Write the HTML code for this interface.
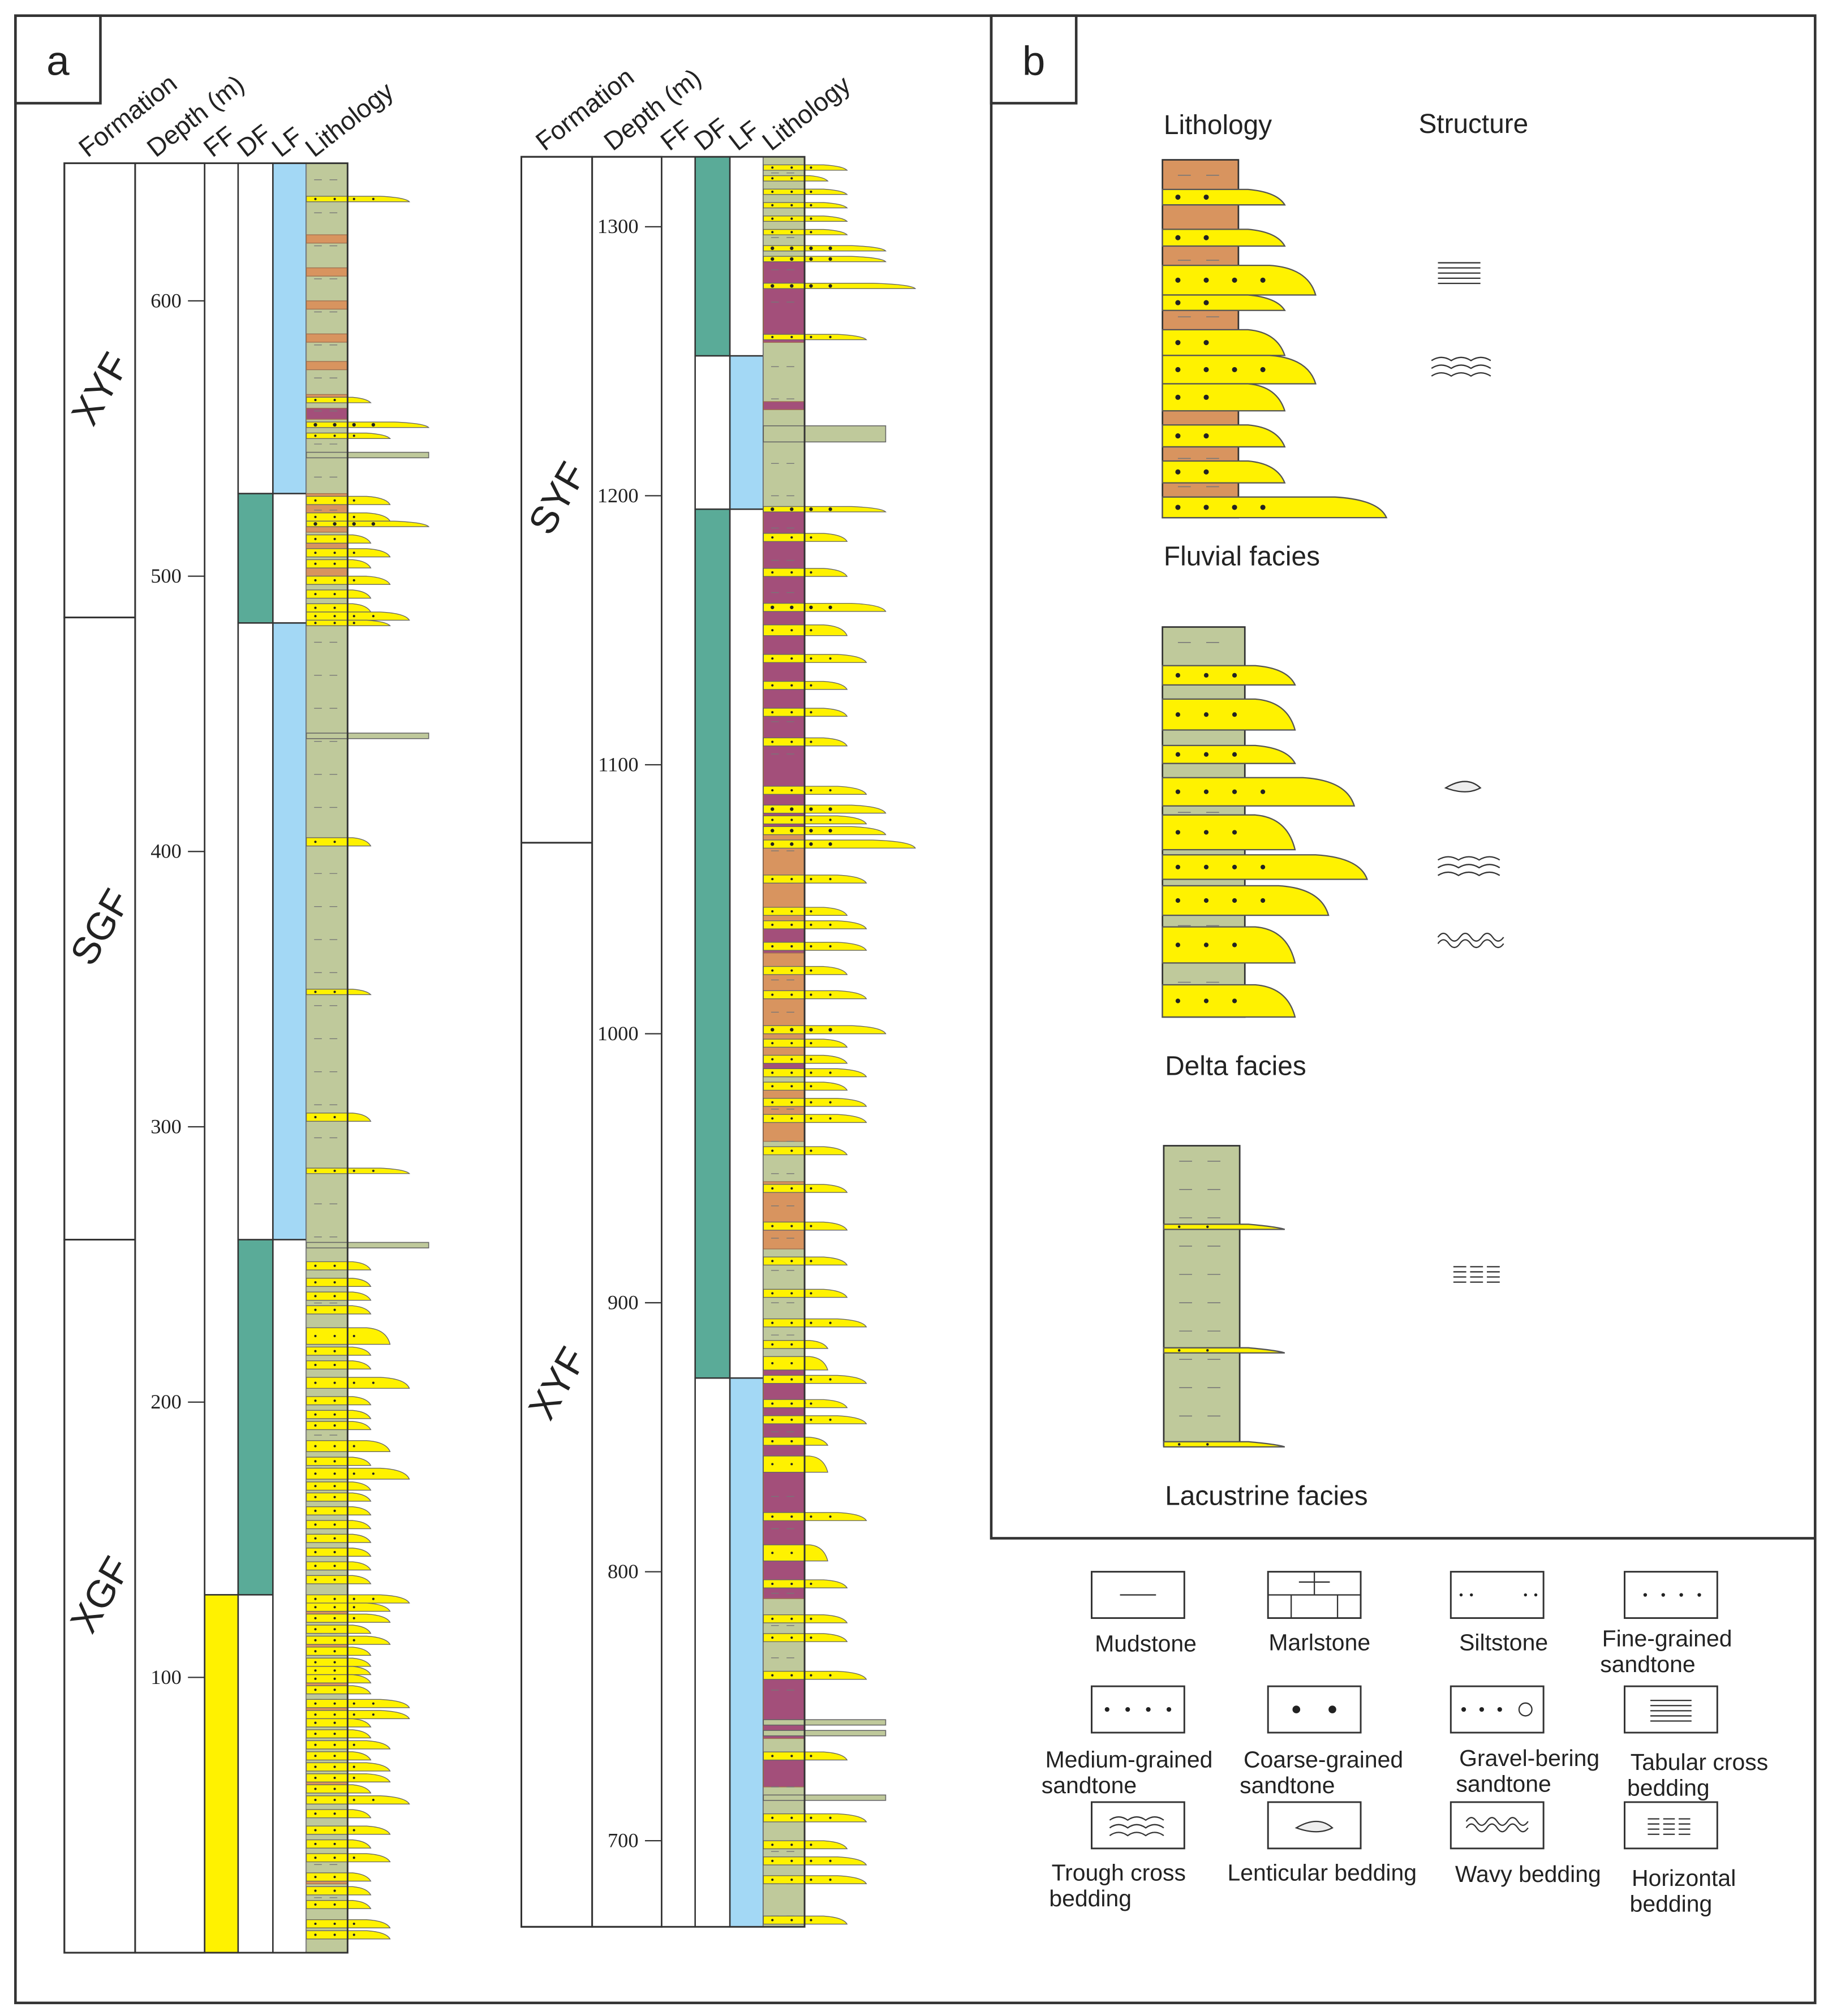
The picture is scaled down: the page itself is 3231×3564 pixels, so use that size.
<!DOCTYPE html>
<html><head><meta charset="utf-8"><style>
html,body{margin:0;padding:0;background:#fff}
svg{display:block}
text{font-family:"Liberation Sans",sans-serif;fill:#222}
.tk{font-family:"Liberation Serif",serif;font-size:16px}
</style></head><body>
<svg id="s" width="3231" height="3564" viewBox="0 0 1420 1566" xmlns="http://www.w3.org/2000/svg">
<rect x="12" y="12" width="1398" height="1544" fill="none" stroke="#333" stroke-width="2"/>
<rect x="12" y="12" width="66" height="68" fill="none" stroke="#333" stroke-width="2"/>
<text x="45" y="58" font-size="32" text-anchor="middle">a</text>
<rect x="770" y="12" width="640" height="1183" fill="none" stroke="#333" stroke-width="2"/>
<rect x="770" y="12" width="66" height="68" fill="none" stroke="#333" stroke-width="2"/>
<text x="803" y="58" font-size="32" text-anchor="middle">b</text>
<g id="cols"></g>
<g id="pb"></g>
<g id="leg"></g>
</svg>
<script>
const NS="http://www.w3.org/2000/svg";
const C={g:"#bfc99b",b:"#d8945f",p:"#a34f7a",y:"#fff200",bl:"#a3d8f5",t:"#5aab98",w:"#fff"};
const leftTicks=[100,200,300,400,500,600];
const leftFormations=[["XYF",650,485],["SGF",485,259],["XGF",259,0]];
const leftFF=[["w",650,130],["y",130,0]];
const leftDF=[["w",650,530],["t",530,483],["w",483,259],["t",259,130],["w",130,0]];
const leftLF=[["bl",650,530],["w",530,483],["bl",483,259],["w",259,0]];
const leftMud=[["g",650,0],["b",624,621],["b",612,609],["b",600,597],["b",588,585],["b",578,575],["b",566,563],["p",561,557],["b",530,516],["b",512,508],["b",503,500],["b",126,120],["b",112,108],["b",100,97],["b",90,86],["b",62,59],["b",28,25]];
const leftSand=[[638,2,3],[565,2,1],[556,2,4],[552,2,2],[545,2,4,"m"],[529,3,2],[523,3,2],[520,2,4],[515,3,1],[510,3,2],[506,3,1],[500,3,2],[495,3,1],[490,3,1],[487,3,3],[484,2,2],[443,2,4,"m"],[405,3,1],[350,2,1],[305,3,1],[285,2,3],[258,2,4,"m"],[251,3,1],[245,3,1],[240,3,1],[235,3,1],[227,6,2],[220,3,1],[215,3,1],[209,4,3],[202,3,1],[197,3,1],[193,3,1],[186,4,2],[180,3,1],[176,4,3],[171,3,1],[167,3,1],[162,3,1],[157,3,1],[152,3,1],[147,3,1],[142,3,1],[137,3,1],[130,3,3],[127,3,2],[123,3,2],[119,3,1],[115,3,2],[111,3,1],[107,3,1],[104,3,1],[101,3,1],[97,3,1],[92,3,3],[88,3,3],[85,3,1],[81,3,1],[77,3,2],[73,3,1],[69,3,2],[65,3,2],[61,3,1],[57,3,3],[52,3,1],[46,3,2],[41,3,1],[36,3,2],[29,3,1],[24,3,1],[19,3,1],[12,3,2],[8,3,2]];
const rightTicks=[700,800,900,1000,1100,1200,1300];
const rightFormations=[["SYF",1326,1071],["XYF",1071,668]];
const rightFF=[["w",1326,668]];
const rightDF=[["t",1326,1252],["w",1252,1195],["t",1195,872],["w",872,668]];
const rightLF=[["w",1326,1252],["bl",1252,1195],["w",1195,872],["bl",872,668]];
const rightMud=[["g",1326,668],["p",1288,1257],["p",1235,1232],["p",1195,1075],["b",1075,1040],["p",1040,1030],["b",1030,990],["p",990,984],["b",980,960],["b",945,920],["p",880,790],["p",760,738],["p",730,720]];
const rightSand=[[1323,2,2],[1319,2,1],[1314,2,2],[1309,2,2],[1304,2,2],[1299,2,2],[1293,2,4],[1289,2,4],[1279,2,5],[1260,2,3],[1226,6,4,"m"],[1196,2,4],[1186,3,2],[1173,3,2],[1160,3,4],[1152,4,2],[1141,3,3],[1131,3,2],[1121,3,2],[1110,3,2],[1092,3,3],[1085,3,4],[1081,3,3],[1077,3,4],[1072,3,5],[1059,3,3],[1047,3,2],[1042,3,3],[1034,3,3],[1025,3,2],[1016,3,3],[1003,3,4],[998,3,2],[992,3,2],[987,3,3],[982,3,2],[976,3,3],[970,3,3],[958,3,2],[944,3,2],[930,3,2],[917,3,2],[905,3,2],[894,3,3],[886,3,1],[880,5,1],[873,3,3],[864,3,2],[858,3,3],[850,3,1],[843,6,1],[822,3,3],[810,6,1],[797,3,2],[784,3,2],[777,3,2],[763,3,3],[745,2,4,"m"],[741,2,4,"m"],[733,3,2],[717,2,4,"m"],[710,3,3],[700,3,2],[694,3,3],[687,3,3],[672,3,2]];

const root=document.getElementById('cols');
function el(tag,attrs,parent){const e=document.createElementNS(NS,tag);for(const k in attrs)e.setAttribute(k,attrs[k]);(parent||root).appendChild(e);return e;}
const yL=d=>1517-d*2.139, yR=d=>176+(1300-d)*2.09;
const grainW=[0,50,65,80,95,118];

function column(cfg){
 const {y,x0,ticks,forms,ff,df,lf,mud,sand,name,dTop,dBot}=cfg;
 const g=el('g',{});
 
 
 const top=y(dTop),bot=y(dBot);
 const xs=[x0,x0+55,x0+109,x0+135,x0+162,x0+188];
 forms.forEach(f=>{const r=el('rect',{x:xs[0],y:y(f[1]),width:55,height:y(f[2])-y(f[1]),fill:'#fff',stroke:'#333','stroke-width':1.3},g);
  
  
  const cy=(y(f[1])+y(f[2]))/2;
  const t=el('text',{x:xs[0]+30,y:cy,'font-size':30,'text-anchor':'middle','dominant-baseline':'middle',transform:`rotate(-60 ${xs[0]+30} ${cy})`},g);t.textContent=f[0];
  
  });
 el('rect',{x:xs[1],y:top,width:54,height:bot-top,fill:'#fff',stroke:'#333','stroke-width':1.3},g);
 ticks.forEach(v=>{const yy=y(v);el('line',{x1:xs[2]-13,x2:xs[2],y1:yy,y2:yy,stroke:'#333','stroke-width':1},g);
  const t=el('text',{x:xs[2]-18,y:yy+5,'text-anchor':'end',class:'tk'},g);t.textContent=v;
  
  });
 [[ff,2],[df,3],[lf,4]].forEach(([arr,i])=>arr.forEach(s=>{const r=el('rect',{x:xs[i],y:y(s[1]),width:xs[i+1]-xs[i],height:y(s[2])-y(s[1]),fill:C[s[0]],stroke:'#333','stroke-width':1.1},g);
  
  }));
 const lx=xs[5];
 mud.forEach(m=>{const r=el('rect',{x:lx,y:y(m[1]),width:32,height:y(m[2])-y(m[1]),fill:C[m[0]],stroke:m[0]=='g'?'#888':'#a07050','stroke-width':0.6},g);
  
  });
 for(let d=dTop-6;d>dBot;d-=12){const yy=y(d);el('path',{d:`M${lx+6} ${yy}h6M${lx+18} ${yy}h6`,stroke:'#777','stroke-width':0.6},g);}
 sand.forEach(s=>{const t=y(s[0]),b=y(s[0]-s[1]),w=grainW[s[2]];
  if(s[3]=='m'){const r=el('rect',{x:lx,y:t,width:w,height:Math.max(2,b-t),fill:C.g,stroke:'#666','stroke-width':0.7},g);
   
   return;}
  const p=el('path',{d:`M${lx} ${t}H${lx+w*0.72}Q${lx+w-3} ${t+1} ${lx+w} ${b}H${lx}Z`,fill:C.y,stroke:'#666','stroke-width':0.6},g);
  
  
  const cy=(t+b)/2;for(let k=0;k<4&&k*15+8<w-12;k++)el('circle',{cx:lx+7+k*15,cy:cy,r:s[2]>3?1.4:0.9,fill:'#222'},g);});
 el('rect',{x:x0,y:top,width:188+32,height:bot-top,fill:'none',stroke:'#333','stroke-width':1.3},g);
 [["Formation",xs[0]+18],["Depth (m)",xs[1]+16],["FF",xs[2]+6],["DF",xs[3]+6],["LF",xs[4]+6],["Lithology",xs[5]+6]].forEach(h=>{
  const t=el('text',{x:h[1],y:top-4,'font-size':20,transform:`rotate(-38 ${h[1]} ${top-4})`},g);t.textContent=h[0];
  
  });
}
column({y:yL,x0:50,ticks:leftTicks,forms:leftFormations,ff:leftFF,df:leftDF,lf:leftLF,mud:leftMud,sand:leftSand,name:'left-section',dTop:650,dBot:0});
column({y:yR,x0:405,ticks:rightTicks,forms:rightFormations,ff:rightFF,df:rightDF,lf:rightLF,mud:rightMud,sand:rightSand,name:'right-section',dTop:1326,dBot:668});

const pb=document.getElementById('pb');
function col(x,y0,y1,w,fill,sands,name,dot){
 const g=el('g',{},pb);
 
 
 el('rect',{x:x,y:y0,width:w,height:y1-y0,fill:fill,stroke:'#333','stroke-width':1.2},g);
 for(let yy=y0+12;yy<y1;yy+=22)el('path',{d:`M${x+12} ${yy}h10M${x+34} ${yy}h10`,stroke:'#777','stroke-width':0.7},g);
 sands.forEach(s=>{const[t,b,r]=s;const L=Math.min(40,(r-x)*0.3);el('path',{d:`M${x} ${t}H${r-L}Q${r-6} ${t+2} ${r} ${b}H${x}Z`,fill:C.y,stroke:'#555','stroke-width':1},g);
  const n=Math.floor((r-x-30)/22);for(let k=0;k<Math.min(n,4);k++)el('circle',{cx:x+12+k*22,cy:(t+b)/2,r:dot,fill:'#222'},g);});
}
col(903,124,402,59,C.b,[[147,159,998],[178,191,998],[206,229,1022],[229,241,998],[256,276,998],[276,298,1022],[298,319,998],[330,347,998],[358,375,998],[386,402,1077]],'fluvial-column',2);
col(903,487,790,64,C.g,[[517,532,1006],[543,567,1006],[579,593,1006],[604,626,1052],[633,660,1006],[664,683,1062],[688,711,1032],[720,748,1006],[765,790,1006]],'delta-column',1.8);
col(904,890,1123,59,C.g,[[951,955,998],[1047,1051,998],[1120,1124,998]],'lacustrine-column',1);
[["Lithology",904,104],["Structure",1102,103],["Fluvial facies",904,439],["Delta facies",905,835],["Lacustrine facies",905,1169]].forEach(a=>{const t=el('text',{x:a[1],y:a[2],'font-size':21},pb);t.textContent=a[0];
 
 });
function icon(type,x,y,w,parent){
 const s={stroke:'#333',fill:'none','stroke-width':1};
 if(type=='tab'){for(let i=0;i<5;i++)el('line',Object.assign({x1:x,x2:x+w,y1:y-8+i*4,y2:y-8+i*4},s),parent);}
 if(type=='trough'){for(let i=0;i<3;i++){let d=`M${x} ${y-6+i*6}`;for(let k=0;k<3;k++)d+=` q${w/6} ${-5} ${w/3} 0`;el('path',Object.assign({d},s),parent);}}
 if(type=='lens'){el('path',{d:`M${x} ${y}q${w*0.6} -10 ${w} 0q${-w*0.4} 6 ${-w} 0z`,fill:'#eee',stroke:'#333','stroke-width':1},parent);}
 if(type=='wavy'){for(let i=0;i<2;i++){let d=`M${x} ${y-3+i*5}`;for(let k=0;k<3;k++)d+=` q${w/12} -6 ${w/6} 0 q${w/12} 6 ${w/6} 0`;el('path',Object.assign({d},s),parent);}}
 if(type=='hor'){for(let i=0;i<4;i++)for(let k=0;k<3;k++)el('line',Object.assign({x1:x+k*w/3,x2:x+k*w/3+w/3-3,y1:y-6+i*4,y2:y-6+i*4},s),parent);}
}
const ig=el('g',{},pb);


icon('tab',1117,212,33,ig);icon('trough',1112,286,46,ig);icon('lens',1123,612,27,ig);icon('trough',1117,674,48,ig);icon('wavy',1117,731,51,ig);icon('hor',1129,990,39,ig);

const lg=document.getElementById('leg');
const legItems=[["Mudstone",848,1221,"mud",[["Mudstone",890,1283]]],["Marlstone",985,1221,"marl",[["Marlstone",1025,1282]]],["Siltstone",1127,1221,"silt",[["Siltstone",1168,1282]]],["Fine",1262,1221,"fine",[["Fine-grained",1295,1279],["sandtone",1280,1299]]],
["Medium",848,1310,"med",[["Medium-grained",877,1373],["sandtone",846,1393]]],["Coarse",985,1310,"coarse",[["Coarse-grained",1028,1373],["sandtone",1000,1393]]],["Gravel",1127,1310,"gravel",[["Gravel-bering",1188,1372],["sandtone",1168,1392]]],["Tabular",1262,1310,"tab",[["Tabular cross",1320,1375],["bedding",1296,1395]]],
["Trough",848,1400,"trough",[["Trough cross",869,1461],["bedding",847,1481]]],["Lenticular",985,1400,"lens",[["Lenticular bedding",1027,1461]]],["Wavy",1127,1400,"wavy",[["Wavy bedding",1187,1462]]],["Horizontal",1262,1400,"hor",[["Horizontal",1308,1465],["bedding",1298,1485]]]];
legItems.forEach(it=>{const[n,x,y,t,labels]=it;const g=el('g',{},lg);
 
 
 el('rect',{x,y,width:72,height:36,fill:'#fff',stroke:'#333','stroke-width':1.3},g);
 const cy=y+18;
 if(t=='mud')el('line',{x1:x+22,x2:x+50,y1:cy,y2:cy,stroke:'#333'},g);
 if(t=='marl')el('path',{d:`M${x} ${cy}h72M${x+36} ${y}v18M${x+18} ${cy}v18M${x+54} ${cy}v18M${x+24} ${y+8}h24`,stroke:'#333',fill:'none'},g);
 if(t=='silt')[8,16,58,66].forEach(dx=>el('circle',{cx:x+dx,cy,r:1.2,fill:'#222'},g));
 if(t=='fine')[14,28,42,56].forEach(dx=>el('circle',{cx:x+dx+2,cy,r:1.4,fill:'#222'},g));
 if(t=='med')[14,30,46,62].forEach(dx=>el('circle',{cx:x+dx-2,cy,r:1.8,fill:'#222'},g));
 if(t=='coarse')[22,50].forEach(dx=>el('circle',{cx:x+dx,cy,r:3,fill:'#222'},g));
 if(t=='gravel'){[10,24,38].forEach(dx=>el('circle',{cx:x+dx,cy,r:1.8,fill:'#222'},g));el('circle',{cx:x+58,cy,r:5,fill:'#fff',stroke:'#333'},g);}
 if(t=='tab')icon('tab',x+20,cy+1,32,g);
 if(t=='trough')icon('trough',x+14,cy+2,42,g);
 if(t=='lens')icon('lens',x+22,cy+2,28,g);
 if(t=='wavy')icon('wavy',x+12,cy,48,g);
 if(t=='hor')icon('hor',x+18,cy+1,36,g);
 labels.forEach(l=>{const tx=el('text',{x:l[1],y:l[2],'font-size':18,'text-anchor':'middle'},g);tx.textContent=l[0];
  
  });
});
</script>
</body></html>
